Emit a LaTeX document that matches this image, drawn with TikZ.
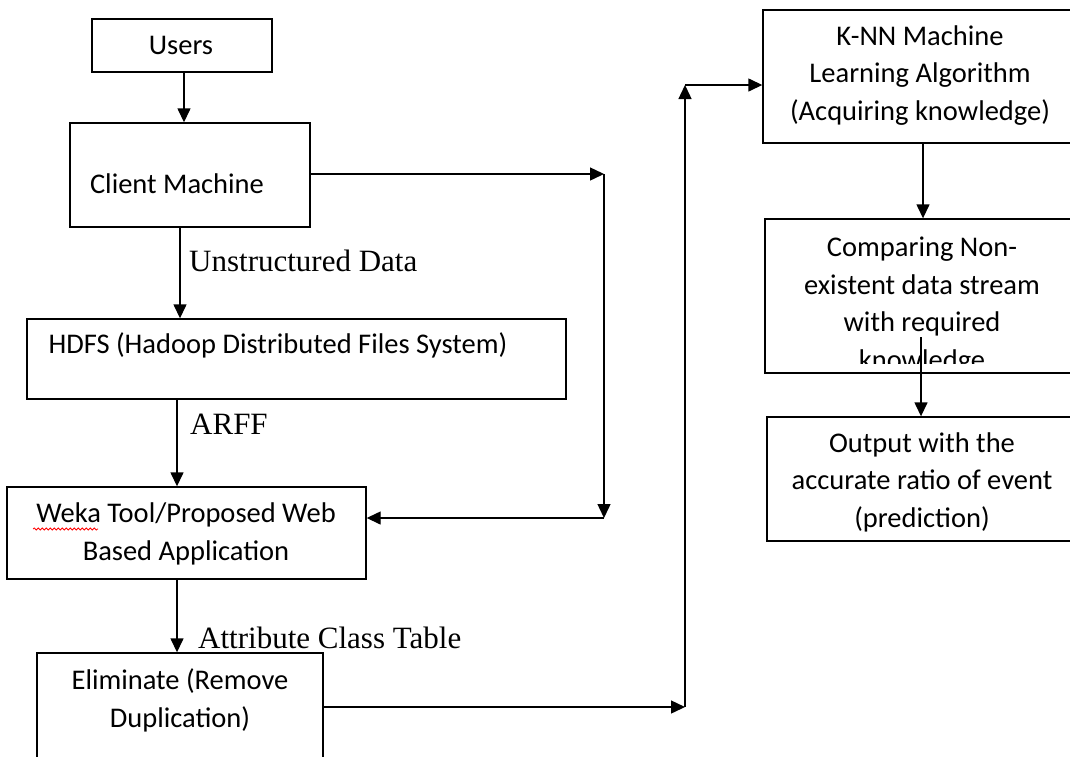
\documentclass[tikz,border=0pt]{standalone}
\usepackage{fontspec}
\setmainfont{Carlito}
\newfontfamily\labelserif{Liberation Serif}
\usetikzlibrary{arrows.meta,decorations.pathmorphing}
\begin{document}
\begin{tikzpicture}[x=1pt,y=-1pt,
  box/.style={draw, line width=1.4pt, inner sep=0pt},
  txt/.style={font=\fontsize{28.5}{37.5}\selectfont, align=center, anchor=base, inner sep=0pt},
  lbl/.style={font=\labelserif\fontsize{31}{37}\selectfont, anchor=base west, inner sep=0pt},
  arr/.style={line width=1.4pt, -{Triangle[length=14pt,width=13pt]}}
]
\useasboundingbox (0,0) rectangle (1070,756);
\fill[white] (0,0) rectangle (1070,756);
\clip (0,0) rectangle (1070,756);

% boxes
\node[box, minimum width=180pt, minimum height=53pt] (users) at (182,45.5) {};
\node[box, minimum width=240pt, minimum height=104pt] (client) at (190,175) {};
\node[box, minimum width=539pt, minimum height=80pt] (hdfs) at (296.5,359) {};
\node[box, minimum width=359pt, minimum height=92pt] (weka) at (186.5,533) {};
\node[box, minimum width=286pt, minimum height=147pt] (elim) at (180,726.5) {};
\node[box, minimum width=317pt, minimum height=133pt] (knn) at (921.5,76.5) {};
\node[box, minimum width=315pt, minimum height=154pt] (comp) at (922.5,296) {};
\node[box, minimum width=313pt, minimum height=124pt] (out) at (923.5,479) {};

% box texts (anchor base = baseline of the last line)
\node[txt] (tusers) at (181,54) {Users};
\node[txt] (tclient) at (177,193) {Client Machine};
\node[txt] (thdfs) at (278,353) {HDFS (Hadoop Distributed Files System)};
\node[txt] (tweka) at (186,560) {Weka Tool/Proposed Web\\Based Application};
\node[txt] (telim) at (180,727) {Eliminate (Remove\\Duplication)};
\node[txt] (tknn) at (920,120) {K-NN Machine\\Learning Algorithm\\(Acquiring knowledge)};
\begin{scope}
  \clip (765,219) rectangle (1080,363);
  \node[txt] (tcomp) at (922,369) {Comparing Non-\\existent data stream\\with required\\knowledge};
\end{scope}
\node[txt] (tout) at (922,527) {Output with the\\accurate ratio of event\\(prediction)};

% spell-check squiggle under "Weka"
\draw[red, line width=0.8pt, decorate, decoration={snake, amplitude=1pt, segment length=4pt}] (33,529) -- (98,529);

% labels
\node[lbl] (lunstr) at (189,271) {Unstructured Data};
\node[lbl] (larff) at (190,434) {ARFF};
\node[lbl] (lattr) at (198,648) {Attribute Class Table};

% corner points
\coordinate (c1) at (604,174);
\coordinate (c2) at (604,518);
\coordinate (e1) at (685,707);
\coordinate (e2) at (685,85);
\coordinate (cs) at (921,337);

% connectors
\draw[arr] ([xshift=2pt]users.south) -- ([xshift=2pt]users.south |- client.north);
\draw[arr] ([xshift=-10pt]client.south) -- ([xshift=-10pt]client.south |- hdfs.north);
\draw[arr] ([xshift=-9.5pt]weka.north |- hdfs.south) -- ([xshift=-9.5pt]weka.north);
\draw[arr] ([xshift=-9.5pt]weka.south) -- ([xshift=-9.5pt]weka.south |- elim.north);
\draw[arr] (c1 -| client.east) -- (c1);
\draw[arr] (c1) -- (c2);
\draw[arr] (c2) -- (c2 -| weka.east);
\draw[arr] (e1 -| elim.east) -- (e1);
\draw[arr] (e1) -- (e2);
\draw[arr] (e2) -- (e2 -| knn.west);
\draw[arr] ([xshift=1.5pt]knn.south) -- ([xshift=1.5pt]knn.south |- comp.north);
\draw[arr] (cs) -- (cs |- out.north);
\end{tikzpicture}
\end{document}
